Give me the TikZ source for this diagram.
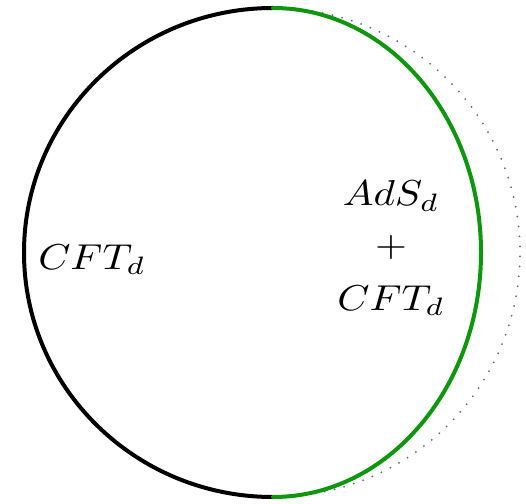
\documentclass[tikz,border=0pt]{standalone}
\usepackage{amsmath}
\definecolor{arcgreen}{RGB}{14,150,14}
\newcommand{\biglbl}[1]{\scalebox{4.1}[3.6]{#1}}
\begin{document}
\begin{tikzpicture}[x=1pt,y=1pt,
  lbl/.style={inner sep=0pt},
  bulk/.style={line width=4pt,line cap=round}]
\useasboundingbox (0,0) rectangle (526,503);
\coordinate (top) at (273,495);
\coordinate (bot) at (273,6);
\draw[bulk,black] (top) arc[start angle=90,end angle=270,x radius=249,y radius=244.5];
\draw[line width=2pt,black!60,line cap=round,dash pattern=on 0pt off 10pt] (top) arc[start angle=90,end angle=-90,x radius=247,y radius=244.5];
\draw[bulk,arcgreen] (top) arc[start angle=90,end angle=-90,x radius=208,y radius=244.5];
\node[lbl] (l) at (92,243) {\biglbl{$CFT_d$}};
\node[lbl] (r1) at (391,307) {\biglbl{$AdS_d$}};
\node[lbl] (r2) at (391,255) {\biglbl{$+$}};
\node[lbl] (r3) at (391,202) {\biglbl{$CFT_d$}};
\end{tikzpicture}
\end{document}
